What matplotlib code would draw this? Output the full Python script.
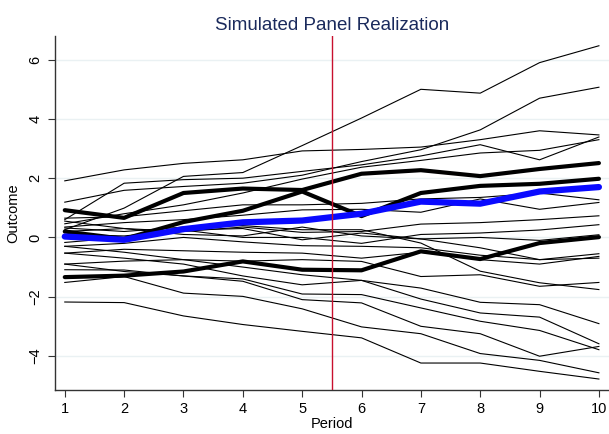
import numpy as np
import matplotlib.pyplot as plt

plt.rcParams['font.family'] = ['Liberation Sans', 'DejaVu Sans']

# Periods
periods = np.arange(1, 11)

# Thin lines: one per simulated unit, values at periods 1..10
units = [
    [1.91, 2.28, 2.50, 2.62, 2.92, 2.97, 3.05, 3.30, 3.60, 3.46],
    [0.26, 0.99, 2.06, 2.19, 3.10, 4.03, 5.00, 4.87, 5.90, 6.47],
    [1.19, 1.59, 1.72, 1.83, 2.10, 2.56, 2.96, 3.63, 4.70, 5.07],
    [0.60, 1.83, 1.95, 2.00, 2.23, 2.45, 2.75, 3.13, 2.62, 3.39],
    [0.46, 0.80, 1.10, 1.50, 1.97, 2.37, 2.60, 2.85, 2.94, 3.30],
    [0.65, 0.70, 0.90, 1.10, 1.10, 1.15, 1.30, 1.35, 1.50, 1.27],
    [0.35, 0.50, 0.60, 0.75, 0.93, 0.95, 0.85, 1.30, 0.95, 1.18],
    [0.20, 0.30, 0.20, 0.35, 0.17, 0.20, 0.45, 0.50, 0.60, 0.73],
    [-0.17, 0.00, 0.25, 0.00, 0.00, -0.20, 0.10, 0.15, 0.25, 0.43],
    [0.55, 0.30, 0.10, 0.05, 0.35, 0.05, -0.05, 0.00, -0.10, 0.09],
    [-0.30, -0.20, 0.00, -0.15, -0.28, -0.30, -0.35, -0.60, -0.75, -0.55],
    [-0.53, -0.40, -0.45, -0.50, -0.53, -0.70, -0.50, -0.75, -0.90, -0.64],
    [0.10, 0.05, 0.25, 0.30, -0.08, 0.15, -0.05, -0.35, -0.75, -0.70],
    [0.32, 0.20, 0.35, 0.40, 0.26, 0.26, -0.19, -1.14, -1.53, -1.76],
    [-0.90, -0.80, -0.75, -0.80, -0.75, -0.81, -1.32, -1.26, -1.65, -1.52],
    [-0.53, -0.70, -0.90, -1.30, -1.60, -1.45, -1.71, -2.19, -2.27, -2.91],
    [-0.30, -0.50, -0.75, -1.00, -1.26, -1.45, -2.08, -2.55, -2.69, -3.59],
    [-1.09, -1.10, -1.30, -1.40, -1.91, -1.93, -2.38, -2.83, -3.14, -3.79],
    [-0.90, -1.15, -1.30, -1.48, -2.10, -2.21, -3.00, -3.25, -4.01, -3.68],
    [-1.52, -1.32, -1.88, -1.99, -2.41, -3.02, -3.25, -3.92, -4.15, -4.57],
    [-2.18, -2.20, -2.65, -2.94, -3.17, -3.39, -4.24, -4.24, -4.52, -4.78],
]

# Highlighted units (thick black)
thick_a = [0.92, 0.66, 1.50, 1.65, 1.60, 2.15, 2.27, 2.07, 2.31, 2.51]
thick_b = [0.20, -0.05, 0.52, 0.90, 1.55, 0.72, 1.50, 1.74, 1.81, 1.98]
thick_c = [-1.34, -1.29, -1.15, -0.81, -1.09, -1.11, -0.47, -0.73, -0.19, 0.01]

# Average path (thick blue)
mean_path = [0.03, -0.08, 0.28, 0.51, 0.57, 0.80, 1.21, 1.14, 1.55, 1.70]

treat_time = 5.5

fig = plt.figure(figsize=(6.09, 4.34), dpi=100)
ax = fig.add_axes([0.0898, 0.1014, 0.9102, 0.8157])

for y in [-4, -2, 0, 2, 4, 6]:
    ax.axhline(y, color='#eaf1f3', lw=1.0, zorder=0)

for u in units:
    ax.plot(periods, u, color='black', lw=0.8, zorder=2)

for t in [thick_a, thick_b, thick_c]:
    ax.plot(periods, t, color='black', lw=3.0, solid_capstyle='round', zorder=3)

ax.plot(periods, mean_path, color='#0a0aff', lw=4.5, solid_capstyle='round', zorder=4)

ax.axvline(treat_time, color='#c8102e', lw=1.0, zorder=5)

ax.set_xlim(0.83, 10.17)
ax.set_ylim(-5.15, 6.8)
ax.set_xticks(periods)
ax.set_yticks([-4, -2, 0, 2, 4, 6])
ax.set_yticklabels(['\u22124', '\u22122', '0', '2', '4', '6'], rotation=90, va='center')
ax.tick_params(axis='both', labelsize=10.5, length=5, width=0.8, color='#333333')
ax.tick_params(axis='y', pad=4)

for side in ['top', 'right']:
    ax.spines[side].set_visible(False)
for side in ['left', 'bottom']:
    ax.spines[side].set_color('#333333')
    ax.spines[side].set_linewidth(1.0)

ax.set_xlabel('Period', fontsize=10.5, labelpad=1)
ax.set_ylabel('Outcome', fontsize=10.5, labelpad=6)
ax.set_title('Simulated Panel Realization', fontsize=13.5, color='#1a2a5c', pad=4)

fig.savefig('out.png', dpi=100)
